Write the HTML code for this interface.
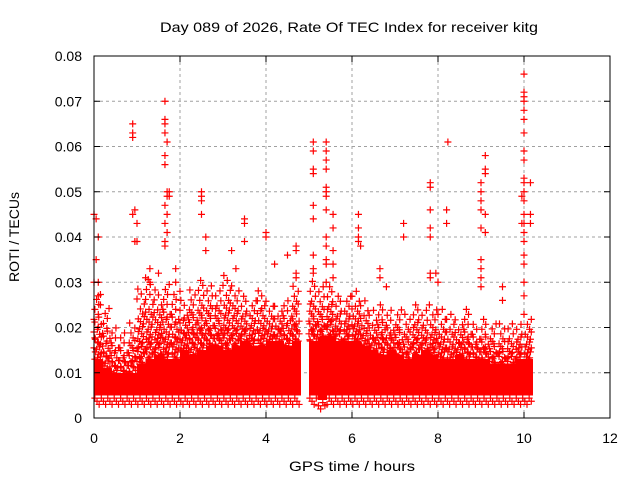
<!DOCTYPE html>
<html><head><meta charset="utf-8"><style>
body{margin:0;background:#fff;}
svg{display:block;font-family:"Liberation Sans",sans-serif;}
</style></head><body>
<svg id="chart" width="640" height="480" viewBox="0 0 640 480">
<rect width="640" height="480" fill="#fff"/>
<text x="349" y="32" font-size="14" text-anchor="middle" textLength="378" lengthAdjust="spacingAndGlyphs">Day 089 of 2026, Rate Of TEC Index for receiver kitg</text>
<text x="352" y="471" font-size="14" text-anchor="middle" textLength="126" lengthAdjust="spacingAndGlyphs">GPS time / hours</text>
<text x="19" y="237" font-size="14" text-anchor="middle" transform="rotate(-90 19 237)">ROTI / TECUs</text>
<g id="grid"></g><g id="marks"></g><g id="axes"></g>
</svg>
<script>
const xTicks=[0,2,4,6,8,10,12];
const yTicks=[0,0.01,0.02,0.03,0.04,0.05,0.06,0.07,0.08];
const yTickLabels=["0","0.01","0.02","0.03","0.04","0.05","0.06","0.07","0.08"];
const binTimes=[0,0.2,0.4,0.6,0.8,1.0,1.2,1.4,1.6,1.8,2.0,2.2,2.4,2.6,2.8,3.0,3.2,3.4,3.6,3.8,4.0,4.2,4.4,4.6,
5.0,5.2,5.4,5.6,5.8,6.0,6.2,6.4,6.6,6.8,7.0,7.2,7.4,7.6,7.8,8.0,8.2,8.4,8.6,8.8,9.0,9.2,9.4,9.6,9.8,10.0];
const bandLo=[0.005,0.005,0.005,0.005,0.005,0.005,0.005,0.005,0.005,0.005,0.005,0.005,0.005,0.005,0.005,0.005,0.005,0.005,0.005,0.005,0.005,0.005,0.005,0.005,
0.005,0.004,0.005,0.005,0.005,0.005,0.005,0.005,0.005,0.005,0.005,0.005,0.005,0.005,0.005,0.005,0.005,0.005,0.005,0.005,0.005,0.005,0.005,0.005,0.005,0.005];
const bandHi=[0.013,0.011,0.010,0.010,0.010,0.012,0.013,0.014,0.013,0.013,0.015,0.014,0.015,0.016,0.016,0.015,0.016,0.017,0.016,0.016,0.017,0.017,0.016,0.017,
0.017,0.018,0.018,0.017,0.017,0.017,0.016,0.015,0.014,0.015,0.014,0.013,0.014,0.015,0.014,0.013,0.013,0.014,0.013,0.013,0.013,0.012,0.012,0.012,0.013,0.013];
const bandTop=[0.028,0.025,0.02,0.019,0.022,0.029,0.031,0.029,0.03,0.028,0.027,0.029,0.031,0.03,0.029,0.032,0.03,0.028,0.027,0.029,0.026,0.025,0.027,0.03,
0.031,0.029,0.03,0.028,0.027,0.029,0.026,0.024,0.026,0.024,0.024,0.023,0.026,0.024,0.025,0.024,0.023,0.022,0.024,0.021,0.022,0.021,0.021,0.021,0.021,0.023];
const outT=[0.05,0.0,0.1,0.05,0.1,0.0,0.15,0.1,
0.9,0.9,0.9,0.95,0.9,1.0,0.95,1.0,1.3,1.3,1.5,1.2,
1.65,1.65,1.65,1.65,1.7,1.65,1.65,1.7,1.7,1.65,1.7,1.65,1.7,1.65,1.65,1.75,1.75,1.9,1.9,2.0,
2.5,2.5,2.5,2.5,2.6,2.6,3.2,3.5,3.5,3.5,3.3,4.0,4.0,4.2,4.5,4.7,4.7,4.7,4.7,
5.1,5.1,5.1,5.1,5.1,5.1,5.1,5.1,5.1,
5.4,5.4,5.4,5.4,5.4,5.4,5.4,5.4,5.4,5.4,5.4,5.4,5.4,
5.56,5.56,5.56,5.56,5.56,6.15,6.15,6.15,6.15,6.2,6.65,6.65,6.8,7.2,7.2,
7.82,7.82,7.82,7.82,7.82,7.82,7.82,8.23,8.2,8.2,7.95,8.0,
9.0,9.0,9.0,9.0,9.0,9.0,9.0,9.0,9.0,9.1,9.1,9.1,9.1,9.1,9.5,9.5,
10.0,10.0,10.0,10.0,10.0,10.0,10.0,10.0,10.0,10.0,10.0,10.0,10.0,10.0,10.0,10.0,10.0,10.0,10.0,10.0,10.0,
9.95,9.95,10.15,10.15,10.15];
const outV=[0.044,0.045,0.04,0.035,0.03,0.03,0.025,0.027,
0.065,0.063,0.062,0.046,0.045,0.043,0.039,0.039,0.033,0.03,0.032,0.031,
0.070,0.066,0.065,0.063,0.061,0.058,0.056,0.05,0.049,0.047,0.045,0.043,0.041,0.039,0.038,0.05,0.049,0.033,0.03,0.028,
0.05,0.049,0.048,0.045,0.04,0.037,0.037,0.044,0.043,0.039,0.033,0.041,0.040,0.034,0.036,0.038,0.037,0.032,0.031,
0.061,0.059,0.055,0.054,0.047,0.044,0.036,0.033,0.032,
0.061,0.059,0.057,0.055,0.051,0.050,0.049,0.046,0.040,0.038,0.035,0.034,0.03,
0.045,0.042,0.037,0.034,0.031,0.045,0.042,0.04,0.039,0.038,0.033,0.031,0.029,0.043,0.040,
0.052,0.051,0.046,0.042,0.040,0.032,0.031,0.061,0.046,0.043,0.032,0.030,
0.052,0.050,0.048,0.046,0.042,0.035,0.033,0.031,0.029,0.058,0.055,0.054,0.045,0.041,0.029,0.026,
0.076,0.072,0.071,0.070,0.068,0.066,0.063,0.059,0.057,0.053,0.052,0.050,0.048,0.045,0.043,0.041,0.039,0.036,0.034,0.03,0.027,
0.049,0.043,0.052,0.045,0.043];
const NS="http://www.w3.org/2000/svg";
const L=94,R=610,T=56,B=418;
const xs=t=>L+(R-L)*t/12, ys=v=>B-(B-T)*v/0.08;
function mk(tag,attrs,parent){const e=document.createElementNS(NS,tag);for(const k in attrs)e.setAttribute(k,attrs[k]);parent.appendChild(e);return e;}
const grid=document.getElementById('grid'),marks=document.getElementById('marks'),axes=document.getElementById('axes');
xTicks.forEach((t,i)=>{const x=xs(t);
 if(t>0&&t<12){const g=mk('line',{x1:x,x2:x,y1:T,y2:B,stroke:'#a0a0a0','stroke-dasharray':'3,3'},grid);
 
 }
 mk('line',{x1:x,x2:x,y1:B,y2:B-6,stroke:'#000'},axes);mk('line',{x1:x,x2:x,y1:T,y2:T+6,stroke:'#000'},axes);
 const tx=mk('text',{x:x,y:443,'font-size':14,'text-anchor':'middle'},axes);tx.textContent=String(t);
 
 });
yTicks.forEach((v,i)=>{const y=ys(v);
 if(v>0&&v<0.08){const g=mk('line',{x1:L,x2:R,y1:y,y2:y,stroke:'#a0a0a0','stroke-dasharray':'3,3'},grid);
 
 }
 mk('line',{x1:L,x2:L+6,y1:y,y2:y,stroke:'#000'},axes);mk('line',{x1:R,x2:R-6,y1:y,y2:y,stroke:'#000'},axes);
 const tx=mk('text',{x:82,y:y+5,'font-size':14,'text-anchor':'end'},axes);tx.textContent=yTickLabels[i];
 
 });
const fr=mk('rect',{x:L,y:T,width:R-L,height:B-T,fill:'none',stroke:'#000'},axes);


function cross(t,v){const x=xs(t),y=ys(v);
 const p=mk('path',{d:`M${x-3.5},${y}h7M${x},${y-3.5}v7`,stroke:'#f00','stroke-width':1.2,fill:'none'},marks);
 
 }
const offs=[0.02,0.11,0.06,0.15,0.03,0.13,0.08,0.17,0.0,0.1];
binTimes.forEach((t,i)=>{
 const x0=xs(t),x1=xs(t+0.2)+0.6;
 const r=mk('rect',{x:x0,y:ys(bandHi[i]),width:x1-x0,height:ys(bandLo[i])-ys(bandHi[i]),fill:'#f00','shape-rendering':'crispEdges'},marks);
 
 
 for(let k=0;k<4;k++){cross(t+0.02+0.05*k,bandLo[i]-0.0006-0.0007*((k+i)%3));}
 const span=bandTop[i]-bandHi[i];
 let j=i;for(let v=bandHi[i];v<=bandTop[i];v+=0.0011){
   const frac=(v-bandHi[i])/span;
   cross(t+offs[j%10],v);
   if(frac<0.6)cross(t+offs[(j+3)%10],v+0.0005);
   if(frac<0.3)cross(t+offs[(j+6)%10],v+0.0003);
   j++;}
});
outT.forEach((t,i)=>cross(t,outV[i]));
</script>
</body></html>
